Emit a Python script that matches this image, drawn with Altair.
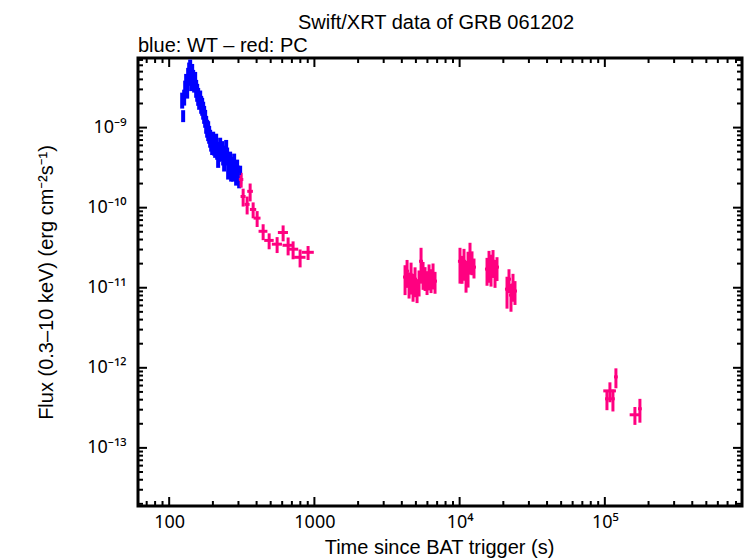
import altair as alt
import pandas as pd

# ---------------- data ----------------
# WT mode (blue)
wt_time = [122.9, 124.8, 126.8, 128.9, 130.9, 133.0, 135.1, 137.3, 139.5, 141.7,
           144.0, 146.3, 148.6, 151.0, 153.4, 155.9, 158.4, 160.9, 163.5, 166.1,
           168.7, 171.4, 174.1, 176.9, 179.8, 182.6, 185.6, 188.5, 191.5, 194.6,
           197.7, 200.9, 204.1, 207.3, 210.6, 214.0, 217.4, 220.9, 224.4,
           231.6, 235.3, 239.1, 242.9, 246.8, 250.7, 254.7, 258.8, 262.9, 267.1,
           271.4, 275.7, 280.1, 284.6, 289.1, 293.8, 298.5, 303.3, 308.1]
wt_flux = [2.23e-9, 1.41e-9, 2.43e-9, 3.15e-9, 3.74e-9, 2.97e-9, 4.45e-9, 5.3e-9, 5.9e-9, 3.96e-9,
           4.98e-9, 4.2e-9, 3.53e-9, 3.96e-9, 3.15e-9, 2.81e-9, 2.5e-9, 2.23e-9, 2.37e-9, 1.99e-9,
           1.88e-9, 1.68e-9, 1.49e-9, 1.33e-9, 1.12e-9, 1.0e-9, 9.4e-10, 8.4e-10, 7.5e-10, 6.7e-10,
           6.3e-10, 7.1e-10, 5.97e-10, 5.6e-10, 6.7e-10, 5.3e-10, 4.2e-10, 5.0e-10, 5.97e-10,
           5.3e-10, 4.5e-10, 3.78e-10, 4.75e-10, 5.6e-10, 4.5e-10, 3.0e-10, 3.18e-10, 4.0e-10, 2.83e-10,
           3.37e-10, 2.83e-10, 3.78e-10, 3.0e-10, 2.52e-10, 3.18e-10, 2.67e-10, 2.25e-10, 2.67e-10]
wt_flux_err = [0.225, 0.17, 0.225, 0.225, 0.252, 0.225, 0.252, 0.225, 0.198, 0.279,
               0.252, 0.252, 0.225, 0.252, 0.252, 0.252, 0.252, 0.252, 0.225, 0.252,
               0.252, 0.252, 0.252, 0.252, 0.252, 0.252, 0.279, 0.252, 0.252, 0.252,
               0.279, 0.252, 0.252, 0.252, 0.252, 0.252, 0.252, 0.252, 0.252,
               0.279, 0.252, 0.252, 0.252, 0.252, 0.252, 0.252, 0.252, 0.252, 0.252,
               0.279, 0.252, 0.252, 0.252, 0.252, 0.252, 0.252, 0.225, 0.252]
wt_time_err = 0.015

# PC mode (red / pink)
pc_time = [313.0, 323.1, 344.2, 361.0, 378.6, 403.4, 443.6, 487.9, 553.7, 609.0,
           659.2, 713.3, 797.1, 904.6,
           4210, 4346, 4486, 4630, 4779, 4933, 5092, 5256, 5425, 5600,
           5780, 5966, 6158, 6356, 6561, 6772,
           10060, 10390, 10720, 11070, 11430, 11790, 12170, 12560,
           15440, 15940, 16450, 16980, 17530, 18090,
           21200, 21880, 22580, 23310, 24060,
           103400, 108400, 113700, 119200, 161100, 174400]
pc_time_err = [0.035, 0.04, 0.04, 0.045, 0.05, 0.055, 0.07, 0.075, 0.08, 0.08,
               0.085, 0.085, 0.09, 0.095,
               0.032, 0.032, 0.032, 0.032, 0.032, 0.032, 0.032, 0.032, 0.032, 0.032,
               0.032, 0.032, 0.032, 0.032, 0.032, 0.032,
               0.032, 0.032, 0.032, 0.032, 0.032, 0.032, 0.032, 0.032,
               0.032, 0.032, 0.032, 0.032, 0.032, 0.032,
               0.032, 0.032, 0.032, 0.032, 0.032,
               0.03, 0.1, 0.03, 0.03, 0.08, 0.03]
pc_flux = [2.25e-10, 1.38e-10, 1.10e-10, 1.6e-10, 9.5e-11, 7.4e-11, 5.07e-11, 3.9e-11, 3.5e-11, 4.9e-11,
           3.39e-11, 3.03e-11, 2.4e-11, 2.77e-11,
           1.36e-11, 1.61e-11, 1.14e-11, 1.44e-11, 1.08e-11, 1.28e-11, 9.6e-12, 1.21e-11, 2.14e-11, 1.52e-11,
           1.36e-11, 1.21e-11, 1.44e-11, 1.28e-11, 1.48e-11, 1.21e-11,
           2.14e-11, 1.81e-11, 2.14e-11, 1.52e-11, 1.91e-11, 2.55e-11, 2.14e-11, 1.81e-11,
           1.71e-11, 2.02e-11, 1.81e-11, 2.14e-11, 1.61e-11, 1.81e-11,
           9.6e-12, 1.28e-11, 8.1e-12, 1.08e-11, 9.1e-12,
           4.1e-13, 5.15e-13, 4.1e-13, 7.7e-13, 2.59e-13, 3.08e-13]
pc_flux_err = [0.21, 0.252, 0.252, 0.252, 0.225, 0.225, 0.225, 0.225, 0.225, 0.225,
               0.252, 0.252, 0.252, 0.198,
               0.405, 0.381, 0.357, 0.429, 0.381, 0.405, 0.33, 0.357, 0.474, 0.381,
               0.33, 0.33, 0.357, 0.33, 0.357, 0.305,
               0.474, 0.381, 0.429, 0.429, 0.474, 0.429, 0.33, 0.279,
               0.381, 0.429, 0.429, 0.381, 0.381, 0.33,
               0.429, 0.33, 0.381, 0.381, 0.33,
               0.279, 0.279, 0.305, 0.279, 0.252, 0.33]

x_tick_values = [100, 1000, 10000, 100000]
x_tick_labels = ["100", "1000", "10⁴", "10⁵"]
y_tick_values = [1e-9, 1e-10, 1e-11, 1e-12, 1e-13]
y_tick_labels = ["10⁻⁹", "10⁻¹⁰", "10⁻¹¹", "10⁻¹²", "10⁻¹³"]

X_DOMAIN = [61.0, 8.8e5]
Y_DOMAIN = [1.88e-14, 7.4e-9]

TITLE = "Swift/XRT data of GRB 061202"
SUBTITLE = "blue: WT – red: PC"
X_TITLE = "Time since BAT trigger (s)"
Y_TITLE = "Flux (0.3–10 keV) (erg cm⁻²s⁻¹)"

# ---------------- build table ----------------
rows = []
for t, f, e in zip(wt_time, wt_flux, wt_flux_err):
    rows.append({"mode": "WT", "t": t, "t_lo": t * (1 - wt_time_err), "t_hi": t * (1 + wt_time_err),
                 "f": f, "f_lo": f * (1 - e), "f_hi": f * (1 + e)})
for t, te, f, e in zip(pc_time, pc_time_err, pc_flux, pc_flux_err):
    rows.append({"mode": "PC", "t": t, "t_lo": t * (1 - te), "t_hi": t * (1 + te),
                 "f": f, "f_lo": f * (1 - e), "f_hi": f * (1 + e)})
df = pd.DataFrame(rows)

FONT = "Liberation Sans, Noto Sans, DejaVu Sans, sans-serif"
LABEL_FONT = "Noto Sans, DejaVu Sans, sans-serif"
W, H = 604, 448

xs = alt.Scale(type="log", domain=X_DOMAIN, nice=False)
ys = alt.Scale(type="log", domain=Y_DOMAIN, nice=False)


def label_expr(values, labels):
    expr = "''"
    for v, l in reversed(list(zip(values, labels))):
        expr = f"datum.value == {v!r} ? '{l}' : ({expr})"
    return expr


x_axis = alt.Axis(values=x_tick_values, labelExpr=label_expr(x_tick_values, x_tick_labels),
                  ticks=False, domain=False, grid=False, labelFont=LABEL_FONT, labelFontSize=18,
                  labelColor="black", labelPadding=7, labelFlush=False,
                  title=X_TITLE, titleFont=FONT, titleFontSize=20, titleFontWeight="normal",
                  titleColor="black", titleX=W / 2 - 1, titleY=41, titleBaseline="middle",
                  titleAlign="center")
y_axis = alt.Axis(values=y_tick_values, labelExpr=label_expr(y_tick_values, y_tick_labels),
                  ticks=False, domain=False, grid=False, labelFont=LABEL_FONT, labelFontSize=18,
                  labelColor="black", labelPadding=12, labelFlush=False,
                  title=Y_TITLE, titleFont=FONT, titleFontSize=20, titleFontWeight="normal",
                  titleColor="black", titleX=-92, titleY=H / 2, titleBaseline="middle",
                  titleAlign="center", titleAngle=-90)

color = alt.Color("mode:N", scale=alt.Scale(domain=["WT", "PC"], range=["#0000ff", "#ff0080"]),
                  legend=None)
width_enc = alt.StrokeWidth("mode:N", scale=alt.Scale(domain=["WT", "PC"], range=[4, 3]), legend=None)

vbars = alt.Chart(df).mark_rule().encode(
    x=alt.X("t:Q", scale=xs, axis=x_axis),
    y=alt.Y("f_lo:Q", scale=ys, axis=y_axis),
    y2="f_hi:Q",
    color=color,
    strokeWidth=width_enc,
)
hbars = alt.Chart(df).mark_rule(strokeWidth=3).encode(
    x=alt.X("t_lo:Q", scale=xs, axis=x_axis),
    x2="t_hi:Q",
    y=alt.Y("f:Q", scale=ys, axis=y_axis),
    color=color,
)

# tick marks (inward, on all four sides)
x_major = [v for v in x_tick_values]
x_minor = [k * 10 ** n for n in range(1, 6) for k in range(2, 10)
           if X_DOMAIN[0] <= k * 10 ** n <= X_DOMAIN[1]]
y_major = [v for v in y_tick_values]
y_minor = [k * 10.0 ** n for n in range(-14, -8) for k in range(2, 10)
           if Y_DOMAIN[0] <= k * 10.0 ** n <= Y_DOMAIN[1]]

MAJ, MIN = 9, 5


def x_ticks(vals, length):
    d = pd.DataFrame({"v": vals})
    b = alt.Chart(d).mark_rule(color="black", strokeWidth=2).encode(
        x=alt.X("v:Q", scale=xs, axis=x_axis), y=alt.value(H), y2=alt.value(H - length))
    t = alt.Chart(d).mark_rule(color="black", strokeWidth=2).encode(
        x=alt.X("v:Q", scale=xs, axis=x_axis), y=alt.value(0), y2=alt.value(length))
    return [b, t]


def y_ticks(vals, length):
    d = pd.DataFrame({"v": vals})
    l = alt.Chart(d).mark_rule(color="black", strokeWidth=2).encode(
        y=alt.Y("v:Q", scale=ys, axis=y_axis), x=alt.value(0), x2=alt.value(length))
    r = alt.Chart(d).mark_rule(color="black", strokeWidth=2).encode(
        y=alt.Y("v:Q", scale=ys, axis=y_axis), x=alt.value(W), x2=alt.value(W - length))
    return [l, r]


ticks = x_ticks(x_major, MAJ) + x_ticks(x_minor, MIN) + y_ticks(y_major, MAJ) + y_ticks(y_minor, MIN)

title_mark = alt.Chart(pd.DataFrame({"text": [TITLE]})).mark_text(
    font=FONT, fontSize=20, align="center", baseline="alphabetic", color="black"
).encode(x=alt.value(298), y=alt.value(-29), text="text:N")
subtitle_mark = alt.Chart(pd.DataFrame({"text": [SUBTITLE]})).mark_text(
    font=FONT, fontSize=20, align="left", baseline="alphabetic", color="black"
).encode(x=alt.value(0), y=alt.value(-6), text="text:N")

chart = alt.layer(vbars, hbars, *ticks, title_mark, subtitle_mark).properties(
    width=W, height=H,
    autosize=alt.AutoSizeParams(type="none"),
    padding={"left": 138, "top": 58, "right": 4, "bottom": 52},
    background="white",
).configure_view(stroke="black", strokeWidth=3)

chart.save("out.html", embed_options={"renderer": "svg", "actions": False})
